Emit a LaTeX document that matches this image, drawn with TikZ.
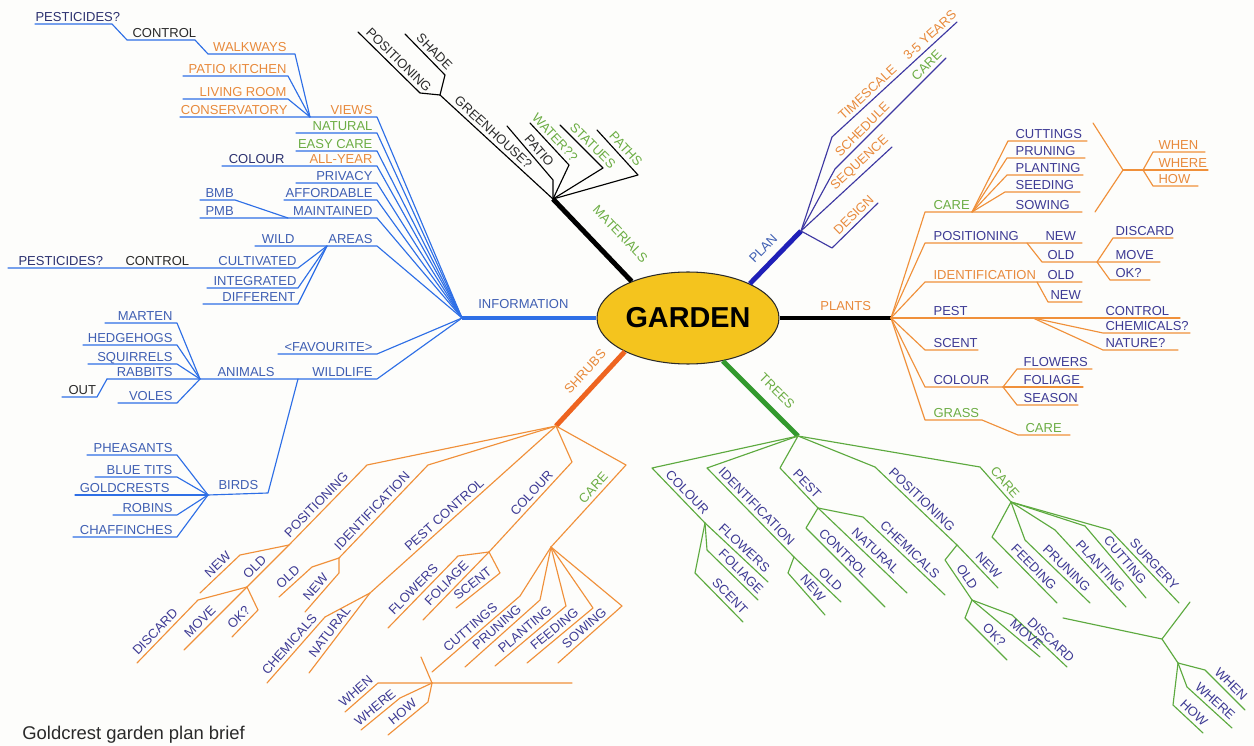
\documentclass[tikz,border=0pt]{standalone}
\usepackage{fontspec}
\setmainfont{Liberation Sans}
\usepackage{xcolor}
\definecolor{paper}{HTML}{FDFDFB}
\definecolor{gold}{HTML}{F4C41E}
\definecolor{infoblue}{HTML}{2E6FE6}
\definecolor{itxt}{HTML}{3F5FB3}
\definecolor{ptxt}{HTML}{3D3A94}
\definecolor{otxt}{HTML}{E88A3C}
\definecolor{gtxt}{HTML}{6CAD44}
\definecolor{navy}{HTML}{2C3170}
\definecolor{dtxt}{HTML}{2A2A2A}
\definecolor{orngline}{HTML}{F0903A}
\definecolor{grnline}{HTML}{5DAA3F}
\definecolor{planline}{HTML}{3E38A2}
\definecolor{planthick}{HTML}{2020B8}
\definecolor{shrubthick}{HTML}{EE6420}
\definecolor{treethick}{HTML}{33992E}
\usepackage{tikz}
\usetikzlibrary{shapes.geometric}

\newcommand{\labfont}{\fontsize{7.4}{8}\selectfont}
\tikzset{
  lab/.style={font=\labfont, inner sep=0pt},
  tag/.style={lab, sloped, above=2pt},
  twig/.style={line width=0.65pt, line join=round, line cap=round},
  trunk/.style={line width=2.8pt},
}

\begin{document}
\begin{tikzpicture}[x=0.02cm,y=-0.02cm]
  \fill[paper] (0,0) rectangle (1254,746);
  \useasboundingbox (0,0) rectangle (1254,746);

  % centre
  \node[ellipse, draw=dtxt, fill=gold, line width=0.6pt, inner sep=0pt,
        minimum width=3.64cm, minimum height=1.84cm,
        font=\bfseries\fontsize{16.4}{18}\selectfont] (garden) at (688,318) {GARDEN};
  \coordinate (info) at (462,318);
  \coordinate (mat) at (553,199);
  \coordinate (plan) at (801,231);
  \coordinate (plants) at (891,318);
  \coordinate (shrubs) at (556,426);
  \coordinate (trees) at (798,436);

  % ---- information ----
  \draw[trunk, draw=infoblue] (garden.west) -- (info);
  \node[lab, text=itxt, anchor=base west] (information) at (478,309) {INFORMATION};
  \begin{scope}[twig, draw=infoblue]
    \foreach \y/\xl/\txt/\col/\nm in {117/180/VIEWS/otxt/views, 133/296/NATURAL/gtxt/natural,
        151/296/EASY CARE/gtxt/easycare, 166/222/ALL-YEAR/otxt/allyear, 183/296/PRIVACY/itxt/privacy,
        200/284/AFFORDABLE/itxt/affordable, 218/200/MAINTAINED/itxt/maintained, 246/255/AREAS/itxt/areas,
        354/278/<FAVOURITE>/itxt/favourite, 379/107/WILDLIFE/itxt/wildlife} {
      \draw (\xl,\y) -- (377,\y) -- (info);
      \node[lab, text=\col, anchor=base east] (\nm) at (373,\y-2.5) {\txt};
    }
    % views
    \draw (35,24) -- (112,24) -- (127,40) -- (195,40) -- (208,54) -- (295,54) -- (310,117);
    \draw (183,76) -- (288,76) -- (310,117);
    \draw (183,99) -- (288,99) -- (310,117);
    \node[lab, text=navy, anchor=base west] (pesticides1) at (35,21.5) {PESTICIDES?};
    \node[lab, text=dtxt, anchor=base west] (control1) at (132,37.5) {CONTROL};
    \node[lab, text=otxt, anchor=base east] (walkways) at (287,51.5) {WALKWAYS};
    \node[lab, text=otxt, anchor=base east] (patiokitchen) at (287,73.5) {PATIO KITCHEN};
    \node[lab, text=otxt, anchor=base east] (livingroom) at (287,96.5) {LIVING ROOM};
    \node[lab, text=otxt, anchor=base east] (conservatory) at (288,114.5) {CONSERVATORY};
    \node[lab, text=navy, anchor=base east] (colour1) at (285,163.5) {COLOUR};
    \draw (200,200) -- (235,200) -- (288,218);
    \node[lab, text=itxt, anchor=base west] (bmb) at (205,197.5) {BMB};
    \node[lab, text=itxt, anchor=base west] (pmb) at (205,215.5) {PMB};
    % areas
    \node[lab, text=itxt, anchor=base east] (wild) at (295,243.5) {WILD};
    \coordinate (areasfork) at (327,246);
    \draw (8,268) -- (298,268) -- (areasfork);
    \draw (207,288) -- (298,288) -- (areasfork);
    \draw (203,304) -- (298,304) -- (areasfork);
    \node[lab, text=navy, anchor=base west] (pesticides2) at (18,265.5) {PESTICIDES?};
    \node[lab, text=dtxt, anchor=base west] (control2) at (125,265.5) {CONTROL};
    \node[lab, text=itxt, anchor=base east] (cultivated) at (297,265.5) {CULTIVATED};
    \node[lab, text=itxt, anchor=base east] (integrated) at (297,285.5) {INTEGRATED};
    \node[lab, text=itxt, anchor=base east] (different) at (296,301.5) {DIFFERENT};
    % wildlife
    \coordinate (animals) at (200,379);
    \coordinate (birds) at (208,495);
    \node[lab, text=itxt, anchor=base west] (animalslab) at (217,376.5) {ANIMALS};
    \foreach \y/\xl/\txt/\nm in {323/105/MARTEN/marten, 345/83/HEDGEHOGS/hedgehogs,
        364/88/SQUIRRELS/squirrels, 403/118/VOLES/voles} {
      \draw (\xl,\y) -- (177,\y) -- (animals);
      \node[lab, text=itxt, anchor=base east] (\nm) at (173,\y-2.5) {\txt};
    }
    \node[lab, text=itxt, anchor=base east] (rabbits) at (173,376.5) {RABBITS};
    \draw (62,397) -- (97,397) -- (107,379);
    \node[lab, text=dtxt, anchor=base west] (out) at (68,394.5) {OUT};
    \draw (298,379) -- (268,493) -- (birds);
    \node[lab, text=itxt, anchor=base west] (birdslab) at (218,489.5) {BIRDS};
    \foreach \y/\xl/\txt/\nm in {455/87/PHEASANTS/pheasants, 477/95/BLUE TITS/bluetits,
        515/113/ROBINS/robins, 537/73/CHAFFINCHES/chaffinches} {
      \draw (\xl,\y) -- (177,\y) -- (birds);
      \node[lab, text=itxt, anchor=base east] (\nm) at (173,\y-2.5) {\txt};
    }
    \draw (75,495) -- (birds);
    \node[lab, text=itxt, anchor=base east] (goldcrests) at (170,492.5) {GOLDCRESTS};
  \end{scope}

  % ---- materials ----
  \draw[trunk] (mat) -- node[tag, above=8pt, pos=0.63, text=gtxt] (materials) {MATERIALS} (garden.147);
  \begin{scope}[twig, draw=black, text=dtxt]
    \coordinate (greenfork) at (440,95);
    \draw (greenfork) -- node[tag, pos=0.42] (greenhouse) {GREENHOUSE?} (mat);
    \draw (358,32) -- node[tag, pos=0.56] (positioning1) {POSITIONING} (420,93) -- (greenfork);
    \draw (405,34) -- node[tag, pos=0.58] (shade) {SHADE} (445,75) -- (greenfork);
    \draw (507,126) -- node[tag, pos=0.56] (patio) {PATIO} (553,180) -- (mat);
    \draw (530,123) -- node[tag, pos=0.48, text=gtxt] (water) {WATER??} (569,165) -- (mat);
    \draw (560,125) -- node[tag, pos=0.62, text=gtxt] (statues) {STATUES} (603,168) -- (mat);
    \draw (597,130) -- node[tag, pos=0.55, text=gtxt] (paths) {PATHS} (638,175) -- (mat);
  \end{scope}

  % ---- plan ----
  \draw[trunk, draw=planthick] (garden.29) -- node[tag, above=2.5pt, pos=0.47, text=itxt] (planlab) {PLAN} (plan);
  \begin{scope}[twig, draw=planline, text=otxt]
    \draw (plan) -- (832,137) -- node[tag, pos=0.33] (timescale) {TIMESCALE}
      node[tag, pos=0.83] (years) {3-5 YEARS} (957,22);
    \draw (plan) -- (835,169) -- node[tag, pos=0.30] (schedule) {SCHEDULE}
      node[tag, pos=0.88, text=gtxt] (care1) {CARE} (946,58);
    \draw (plan) -- node[tag, pos=0.72] (sequence) {SEQUENCE} (892,147);
    \draw (plan) -- (832,248) -- node[tag, pos=0.6] (design) {DESIGN} (878,203);
  \end{scope}

  % ---- plants ----
  \draw[trunk] (garden.east) -- (plants);
  \node[lab, text=otxt, anchor=base west] (plantslab) at (820,311) {PLANTS};
  \begin{scope}[twig, draw=orngline, text=ptxt]
    \draw (plants) -- (925,212) -- (1082,212);
    \draw (plants) -- (925,243) -- (1082,243);
    \draw (plants) -- (925,282) -- (1082,282);
    \draw (plants) -- (1180,318);
    \draw (plants) -- (925,350) -- (978,350);
    \draw (plants) -- (925,387) -- (1003,387);
    \draw (plants) -- (925,420) -- (982,420) -- (1018,435) -- (1070,435);
    \node[lab, text=gtxt, anchor=base west] (care2) at (933,209.5) {CARE};
    \node[lab, anchor=base west] (positioning2) at (933,240.5) {POSITIONING};
    \node[lab, anchor=base west] (new2) at (1045,240.5) {NEW};
    \node[lab, text=otxt, anchor=base west] (ident2) at (933,279.5) {IDENTIFICATION};
    \node[lab, anchor=base west] (old2) at (1047,279.5) {OLD};
    \node[lab, anchor=base west] (pest2) at (933,315.5) {PEST};
    \node[lab, anchor=base west] (control3) at (1105,315.5) {CONTROL};
    \node[lab, anchor=base west] (scent2) at (933,347.5) {SCENT};
    \node[lab, anchor=base west] (colour2) at (933,384.5) {COLOUR};
    \node[lab, text=gtxt, anchor=base west] (grass) at (933,417.5) {GRASS};
    \node[lab, text=gtxt, anchor=base west] (care3) at (1025,432.5) {CARE};
    % care
    \coordinate (pcare) at (972,212);
    \foreach \y/\xs/\xe/\txt/\nm in {141/1008/1087/CUTTINGS/cuttings2, 158/1007/1085/PRUNING/pruning2,
        175/1007/1083/PLANTING/planting2, 192/1005/1080/SEEDING/seeding2} {
      \draw (pcare) -- (\xs,\y) -- (\xe,\y);
      \node[lab, anchor=base west] (\nm) at (1015,\y-2.5) {\txt};
    }
    \node[lab, anchor=base west] (sowing2) at (1015,209.5) {SOWING};
    \coordinate (pwhen) at (1143,170);
    \draw (1093,123) -- (1123,170) -- (1095,212);
    \draw (1123,170) -- (pwhen);
    \draw (pwhen) -- (1153,152) -- (1205,152);
    \draw (pwhen) -- (1208,170);
    \draw (pwhen) -- (1153,186) -- (1198,186);
    \node[lab, text=otxt, anchor=base west] (when2) at (1158,149.5) {WHEN};
    \node[lab, text=otxt, anchor=base west] (where2) at (1158,167.5) {WHERE};
    \node[lab, text=otxt, anchor=base west] (how2) at (1158,183.5) {HOW};
    % positioning
    \coordinate (pold) at (1097,262);
    \draw (1027,243) -- (1042,262) -- (1160,262);
    \draw (pold) -- (1113,238) -- (1173,238);
    \draw (pold) -- (1110,280) -- (1150,280);
    \node[lab, anchor=base west] (old3) at (1047,259.5) {OLD};
    \node[lab, anchor=base west] (discard2) at (1115,235.5) {DISCARD};
    \node[lab, anchor=base west] (move2) at (1115,259.5) {MOVE};
    \node[lab, anchor=base west] (ok2) at (1115,277.5) {OK?};
    % identification
    \draw (1037,282) -- (1048,302) -- (1082,302);
    \node[lab, anchor=base west] (new3) at (1050,299.5) {NEW};
    % pest
    \coordinate (ppest) at (1033,318);
    \draw (ppest) -- (1103,333) -- (1190,333);
    \draw (ppest) -- (1103,350) -- (1178,350);
    \node[lab, anchor=base west] (chemicals2) at (1105,330.5) {CHEMICALS?};
    \node[lab, anchor=base west] (nature) at (1105,347.5) {NATURE?};
    % colour
    \coordinate (pcol) at (1003,387);
    \draw (pcol) -- (1017,369) -- (1092,369);
    \draw (pcol) -- (1083,387);
    \draw (pcol) -- (1017,405) -- (1078,405);
    \node[lab, anchor=base west] (flowers2) at (1023,366.5) {FLOWERS};
    \node[lab, anchor=base west] (foliage2) at (1023,384.5) {FOLIAGE};
    \node[lab, anchor=base west] (season) at (1023,402.5) {SEASON};
  \end{scope}

  % ---- shrubs ----
  \draw[trunk, draw=shrubthick] (shrubs) -- node[tag, above=2.9pt, pos=0.59, text=otxt] (shrubslab) {SHRUBS} (garden.208);
  \begin{scope}[twig, draw=orngline, text=ptxt]
    \coordinate (sposfork) at (289,545);
    \coordinate (soldfork) at (247,587);
    \draw (sposfork) -- node[tag, pos=0.43] (spositioning) {POSITIONING} (367,465) -- (shrubs);
    \draw (200,593) -- node[tag, pos=0.59] (snew1) {NEW} (240,555) -- (sposfork);
    \draw (soldfork) -- node[tag, pos=0.33] (sold1) {OLD} (sposfork);
    \draw (137,663) -- node[tag, pos=0.4] (sdiscard) {DISCARD} (198,600) -- (soldfork);
    \draw (184,650) -- node[tag, pos=0.35] (smove) {MOVE} (soldfork);
    \draw (232,637) -- node[tag, pos=0.5] (sok) {OK?} (258,610) -- (soldfork);
    % identification
    \coordinate (sidfork) at (339,558);
    \draw (sidfork) -- node[tag, pos=0.44] (sident) {IDENTIFICATION} (428,465) -- (shrubs);
    \draw (279,597) -- node[tag, pos=0.45] (sold2) {OLD} (312,567) -- (sidfork);
    \draw (305,612) -- node[tag, pos=0.5] (snew2) {NEW} (339,573) -- (sidfork);
    % pest control
    \coordinate (spestfork) at (370,593);
    \draw (spestfork) -- node[tag, pos=0.43] (spest) {PEST CONTROL} (shrubs);
    \draw (267,683) -- node[tag, pos=0.5] (schem) {CHEMICALS} (325,617) -- (spestfork);
    \draw (309,673) -- node[tag, pos=0.45] (snat) {NATURAL} (spestfork);
    % colour
    \coordinate (scolfork) at (489,552);
    \draw (scolfork) -- node[tag, pos=0.59] (scolour) {COLOUR} (572,462) -- (shrubs);
    \draw (388,628) -- node[tag, pos=0.45] (sflowers) {FLOWERS} (458,556) -- (scolfork);
    \draw (423,620) -- node[tag, pos=0.45] (sfoliage) {FOLIAGE} (scolfork);
    \draw (456,608) -- node[tag, pos=0.5] (sscent) {SCENT} (500,573) -- (scolfork);
    % care
    \coordinate (scarefork) at (551,547);
    \draw (scarefork) -- node[tag, pos=0.65, text=gtxt] (scare) {CARE} (626,465) -- (shrubs);
    \foreach \ex/\ey/\bx/\by/\txt/\nm in {432/672/520/596/CUTTINGS/scuttings, 465/667/540/600/PRUNING/spruning,
        495/666/566/606/PLANTING/splanting, 527/663/593/608/FEEDING/sfeeding, 558/663/622/606/SOWING/ssowing} {
      \draw (\ex,\ey) -- node[tag, pos=0.5] (\nm) {\txt} (\bx,\by) -- (scarefork);
    }
    \coordinate (swhen) at (432,683);
    \draw (421,657) -- (swhen) -- (572,683);
    \draw (345,712) -- node[tag, pos=0.5] (swhen1) {WHEN} (378,683) -- (swhen);
    \draw (361,730) -- node[tag, pos=0.5] (swhere) {WHERE} (400,698) -- (swhen);
    \draw (388,735) -- node[tag, pos=0.5] (showlab) {HOW} (428,702) -- (swhen);
  \end{scope}

  % ---- trees ----
  \draw[trunk, draw=treethick] (garden.309) -- node[tag, above=3.7pt, pos=0.56, text=gtxt] (treeslab) {TREES} (trees);
  \begin{scope}[twig, draw=grnline, text=ptxt]
    \coordinate (tcolfork) at (705,523);
    \draw (trees) -- (652,468) -- node[tag, pos=0.55] (tcolour) {COLOUR} (tcolfork);
    \draw (tcolfork) -- node[tag, pos=0.53] (tflowers) {FLOWERS} (768,582);
    \draw (tcolfork) -- (707,550) -- node[tag, pos=0.55] (tfoliage) {FOLIAGE} (758,600);
    \draw (tcolfork) -- (695,573) -- node[tag, pos=0.6] (tscent) {SCENT} (743,622);
    % identification
    \coordinate (tidfork) at (794,557);
    \draw (trees) -- (707,468) -- node[tag, pos=0.5] (tident) {IDENTIFICATION} (tidfork);
    \draw (tidfork) -- node[tag, pos=0.65] (told1) {OLD} (841,602);
    \draw (tidfork) -- (788,573) -- node[tag, pos=0.5] (tnew1) {NEW} (825,615);
    % pest
    \coordinate (tpestfork) at (818,508);
    \draw (trees) -- (780,468) -- node[tag, pos=0.55] (tpest) {PEST} (tpestfork);
    \draw (tpestfork) -- (806,528) -- node[tag, pos=0.4] (tcontrol) {CONTROL} (885,607);
    \draw (tpestfork) -- node[tag, pos=0.58] (tnatural) {NATURAL} (907,593);
    \draw (tpestfork) -- (863,517) -- node[tag, pos=0.5] (tchem) {CHEMICALS} (945,595);
    % positioning
    \coordinate (tposfork) at (957,545);
    \coordinate (toldfork) at (972,600);
    \draw (trees) -- (875,467) -- node[tag, pos=0.5] (tpositioning) {POSITIONING} (tposfork);
    \draw (tposfork) -- node[tag, pos=0.62] (tnew2) {NEW} (998,588);
    \draw (tposfork) -- (945,560) -- node[tag, pos=0.55] (told2) {OLD} (toldfork);
    \draw (toldfork) -- (1012,615) -- node[tag, pos=0.6] (tdiscard) {DISCARD} (1067,667);
    \draw (toldfork) -- node[tag, pos=0.72] (tmove) {MOVE} (1040,657);
    \draw (toldfork) -- (965,618) -- node[tag, pos=0.55] (tok) {OK?} (1007,660);
    % care
    \coordinate (tcarefork) at (1011,502);
    \draw (trees) -- (980,467) -- node[tag, pos=0.6, text=gtxt] (tcare) {CARE} (tcarefork);
    \foreach \bx/\by/\ex/\ey/\txt/\nm in {992/537/1057/603/FEEDING/tfeeding, 1025/540/1090/603/PRUNING/tpruning,
        1055/530/1126/607/PLANTING/tplanting, 1085/526/1146/598/CUTTING/tcutting, 1110/530/1179/603/SURGERY/tsurgery} {
      \draw (tcarefork) -- (\bx,\by) -- node[tag, pos=0.55] (\nm) {\txt} (\ex,\ey);
    }
    \coordinate (tbrk) at (1162,639);
    \coordinate (twhen) at (1178,663);
    \draw (1063,618) -- (tbrk) -- (1190,602);
    \draw (tbrk) -- (twhen);
    \draw (twhen) -- (1205,670) -- node[tag, pos=0.5] (twhen1) {WHEN} (1245,710);
    \draw (twhen) -- (1187,687) -- node[tag, pos=0.5] (twhere) {WHERE} (1232,728);
    \draw (twhen) -- (1173,705) -- node[tag, pos=0.5] (thow) {HOW} (1203,733);
  \end{scope}

  % caption
  \node[inner sep=0pt, anchor=base west, text=dtxt, font=\fontsize{10.5}{12}\selectfont] (caption)
    at (22,739) {Goldcrest garden plan brief};
\end{tikzpicture}
\end{document}
